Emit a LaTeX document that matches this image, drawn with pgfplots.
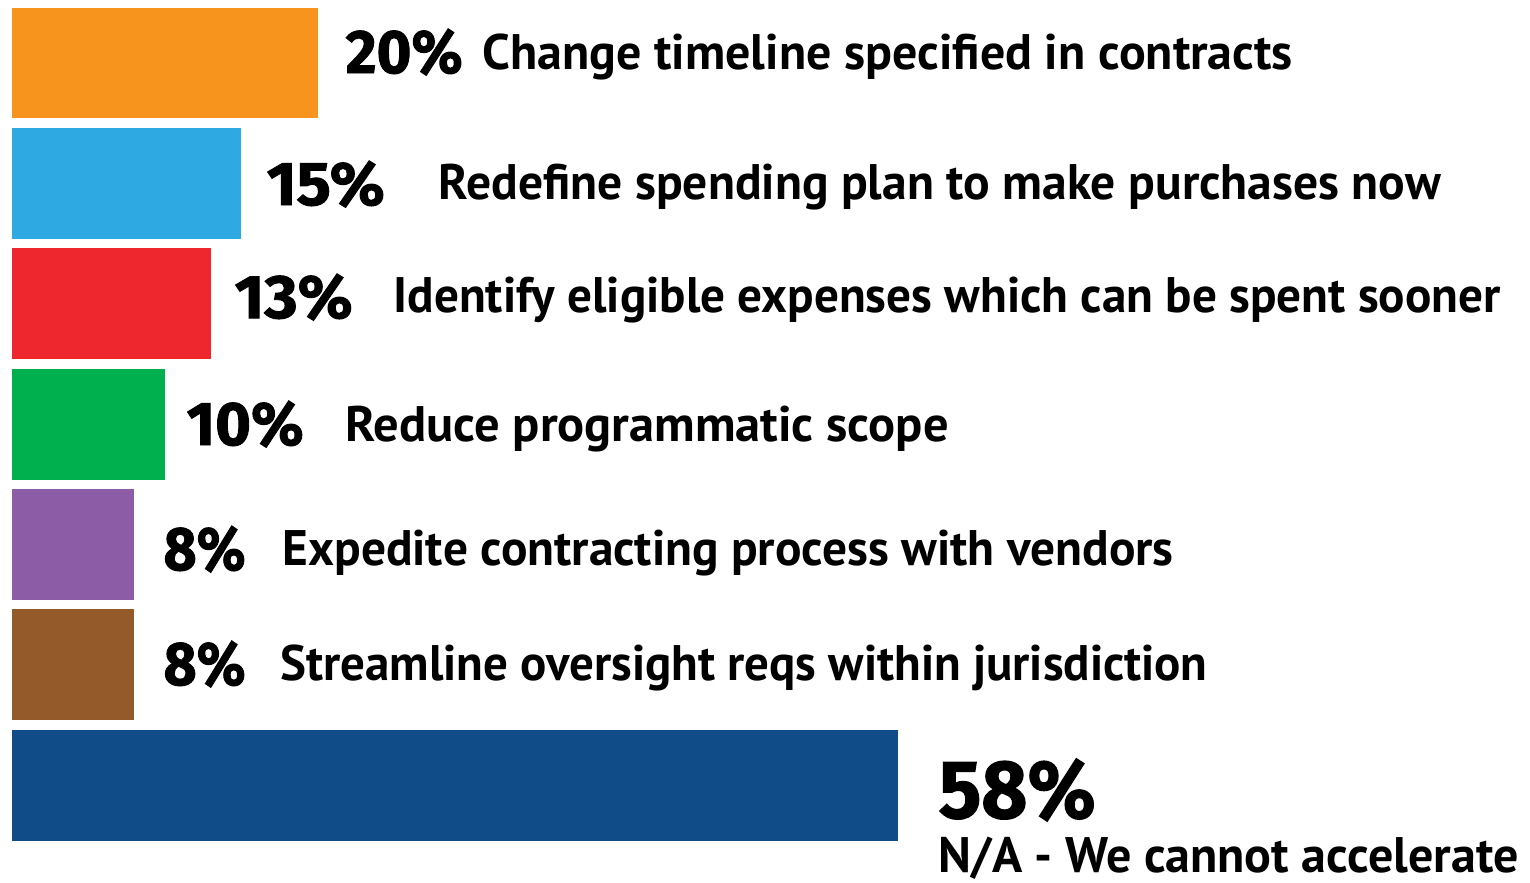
\documentclass[border=0pt]{standalone}
\usepackage{pgfplots}
\pgfplotsset{compat=1.18}
\usepackage{fontspec}
\setmainfont{PT Sans}
\newfontfamily\pctfont[BoldFeatures={FakeBold=1.5}]{Fira Sans}
\definecolor{cOrange}{HTML}{F7941D}
\definecolor{cBlue}{HTML}{2EA9E1}
\definecolor{cRed}{HTML}{EE262D}
\definecolor{cGreen}{HTML}{00B04F}
\definecolor{cPurple}{HTML}{8C5DA6}
\definecolor{cBrown}{HTML}{955A2A}
\definecolor{cNavy}{HTML}{104C88}
% squeeze a box to a given width, keep its height
\newcommand{\fitw}[2]{\sbox0{#2}\pgfmathsetmacro\sx{#1/\wd0}\scalebox{\sx}[1]{\usebox0}}
\newcommand{\pct}[3]{\node[anchor=base west,inner sep=0pt] at (axis cs:#1) {\fitw{#2}{\pctfont\bfseries\fontsize{17.5}{18}\selectfont #3}};}
\newcommand{\lab}[3]{\node[anchor=base west,inner sep=0pt] at (axis cs:#1) {\fitw{#2}{\bfseries\fontsize{14.2}{16}\selectfont #3}};}
\begin{document}
\begin{tikzpicture}
\begin{axis}[
width=15.3cm, height=8.82cm,
scale only axis,
hide axis,
clip=false,
y dir=reverse,
xmin=-0.786, xmax=99.37,
ymin=-0.5235, ymax=6.805,
]
\addplot[xbar, bar shift=0pt, bar width=0.922, fill=cOrange, draw=none] coordinates {(20,0)};
\addplot[xbar, bar shift=0pt, bar width=0.922, fill=cBlue, draw=none] coordinates {(15,1)};
\addplot[xbar, bar shift=0pt, bar width=0.922, fill=cRed, draw=none] coordinates {(13,2)};
\addplot[xbar, bar shift=0pt, bar width=0.922, fill=cGreen, draw=none] coordinates {(10,3)};
\addplot[xbar, bar shift=0pt, bar width=0.922, fill=cPurple, draw=none] coordinates {(8,4)};
\addplot[xbar, bar shift=0pt, bar width=0.922, fill=cBrown, draw=none] coordinates {(8,5)};
\addplot[xbar, bar shift=0pt, bar width=0.922, fill=cNavy, draw=none] coordinates {(58,6)};
\pct{21.80,0.083}{1.17cm}{20\%}
\lab{30.77,0.058}{8.10cm}{Change timeline specified in contracts}
\pct{16.63,1.180}{1.18cm}{15\%}
\lab{27.89,1.138}{10.02cm}{Redefine spending plan to make purchases now}
\pct{14.53,2.119}{1.18cm}{13\%}
\lab{24.94,2.077}{11.07cm}{Identify eligible expenses which can be spent sooner}
\pct{11.39,3.174}{1.17cm}{10\%}
\lab{21.80,3.141}{6.03cm}{Reduce programmatic scope}
\pct{9.88,4.213}{0.82cm}{8\%}
\lab{17.67,4.171}{8.91cm}{Expedite contracting process with vendors}
\pct{9.88,5.168}{0.82cm}{8\%}
\lab{17.54,5.127}{9.27cm}{Streamline oversight reqs within jurisdiction}
\node[anchor=base west,inner sep=0pt] at (axis cs:60.62,6.273) {\fitw{1.57cm}{\pctfont\bfseries\fontsize{23.5}{24}\selectfont 58\%}};
\lab{60.62,6.730}{5.80cm}{N/A - We cannot accelerate}
\path (rel axis cs:0,0) rectangle (rel axis cs:1,1);
\end{axis}
\end{tikzpicture}
\end{document}
